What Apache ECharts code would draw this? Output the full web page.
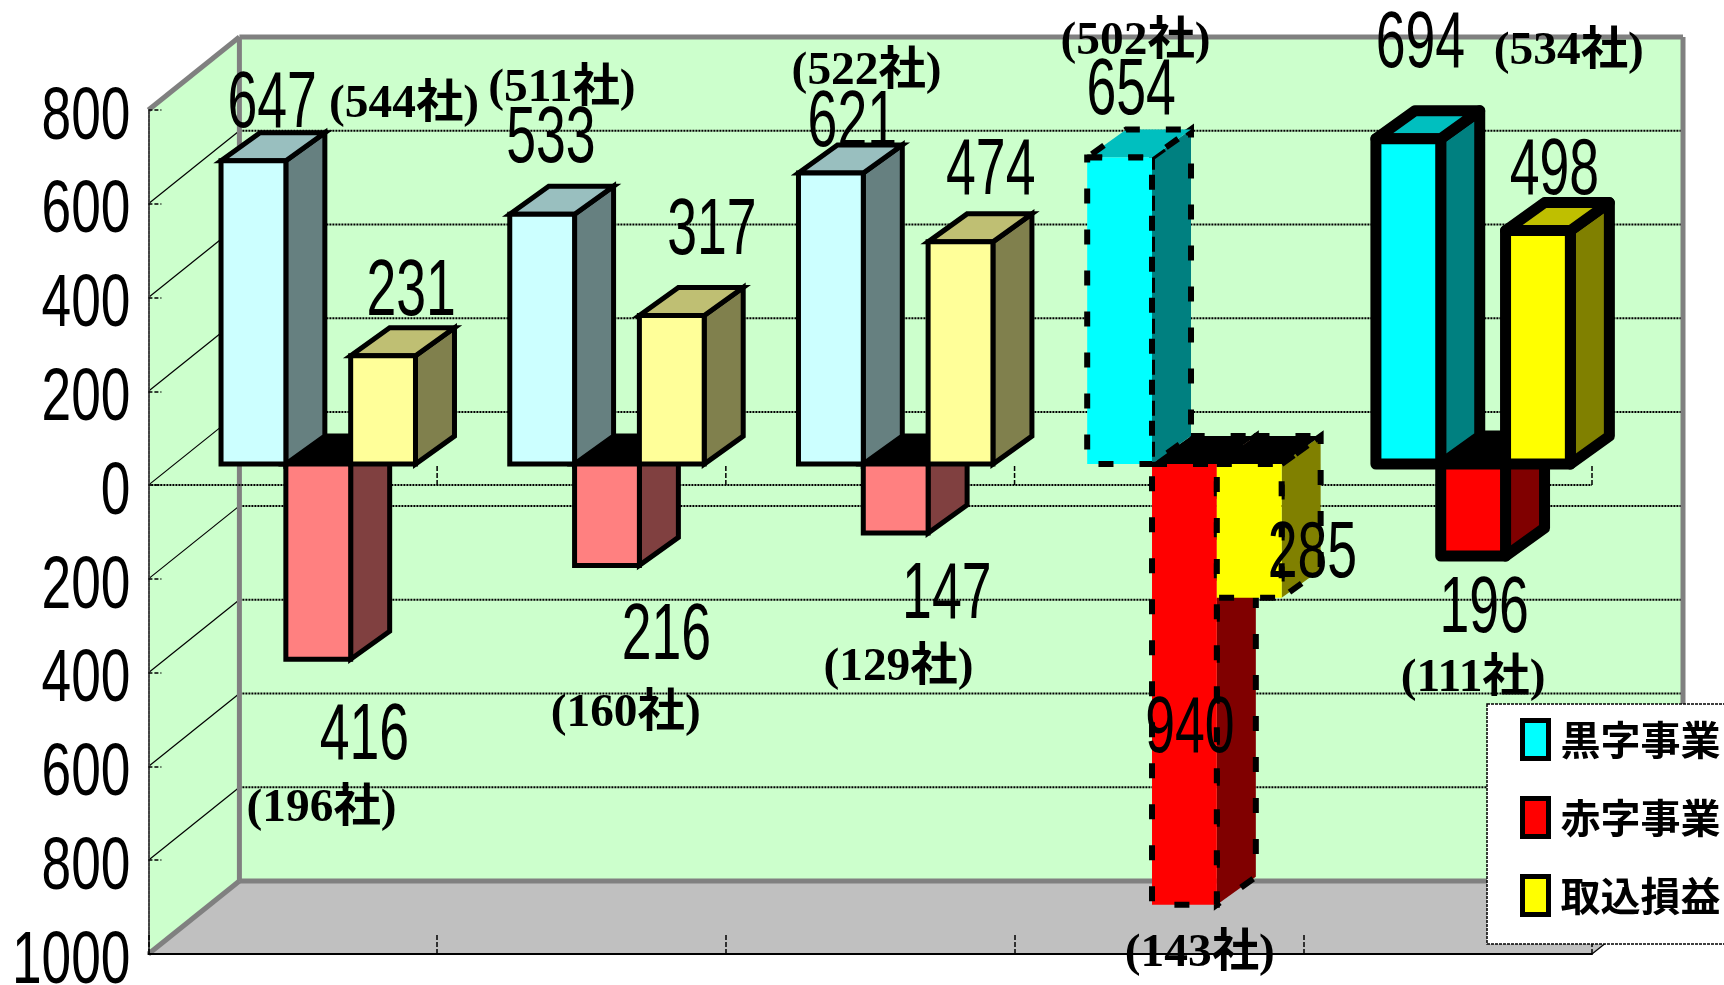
<!DOCTYPE html>
<html><head><meta charset="utf-8">
<style>html,body{margin:0;padding:0;background:#fff;overflow:hidden}#c{width:1724px;height:985px}</style>
<script src="https://cdn.jsdelivr.net/npm/echarts@6/dist/echarts.min.js"></script>
</head><body><div id="c"></div>
<script>
const categories = ['1','2','3','4','5'];
const profit = [647,533,621,654,694];
const loss = [-416,-216,-147,-940,-196];
const equity = [231,317,474,-285,498];
const profitCos = [544,511,522,502,534];
const lossCos = [196,160,129,143,111];
const tickValues = [800,600,400,200,0,-200,-400,-600,-800,-1000];
const tickLabels = ['800','600','400','200','0','200','400','600','800','1000'];
const seriesNames = ['黒字事業','赤字事業','取込損益'];

// layout: label offsets (in 1568-wide units) relative to the front end of each bar
const K = 1724/1568;
const profitOff = [[17,-54],[8,-71],[19.5,-48],[10.5,-63],[11,-89]];
const profitCoOff = [[137,-54],[18,-117],[32.5,-95],[14.5,-109],[146,-82]];
const lossOff = [[42,67],[54,61],[46.5,54],[5,-163],[10,45]];
const lossCoOff = [[3,133],[17,132],[2.5,119],[14,41],[0,108]];
const equityOff = [[25.5,-61],[36.5,-80],[27.5,-67],[57.5,-43],[15,-57]];

const WALL_DX = 91, WALL_DY = 73;
const BAR_DX = 39, BAR_DY = 28, SHIFT_X = 25.5, SHIFT_Y = 21, BAR_W_FRAC = 0.2245;
const LABEL_NUDGE = 4;

const faded = [
  {front:'#CCFFFF',top:'#99BFBF',side:'#668080'},
  {front:'#FF8080',top:'#000000',side:'#804040'},
  {front:'#FFFF99',top:'#BFBF73',side:'#80804D'}];
const pure = [
  {front:'#00FFFF',top:'#00BFBF',side:'#008080'},
  {front:'#FF0000',top:'#000000',side:'#800000'},
  {front:'#FFFF00',top:'#BFBF00',side:'#808000'}];
function strokeOf(i){
  if(i===3) return {lineWidth:6,lineDash:[15,26],lineJoin:'miter'};
  if(i===4) return {lineWidth:11,lineJoin:'round'};
  return {lineWidth:5,lineJoin:'miter'};
}
function anchor(api,i,v,k){
  const p = api.coord([i,v]), z = api.coord([i,0]);
  const w = api.size([1,0])[0]*BAR_W_FRAC;
  const x0 = p[0]+SHIFT_X+(k-1.5)*w;
  return {x0,x1:x0+w,yEnd:p[1]-SHIFT_Y,yBase:z[1]-SHIFT_Y,w};
}
function barSeries(name,values,k,z){
  return {
    name,type:'custom',z,clip:false,silent:true,
    itemStyle:{color:pure[k].front,borderColor:'#000',borderWidth:5},
    encode:{x:0,y:1},
    data:values.map((v,i)=>[i,v]),
    renderItem(p,api){
      const i=api.value(0), v=api.value(1);
      const a=anchor(api,i,v,k);
      const c=(i<3?faded:pure)[k];
      const s=strokeOf(i);
      const yt=Math.min(a.yEnd,a.yBase), yb=Math.max(a.yEnd,a.yBase);
      const topFill = v<0 ? '#000' : c.top;
      const poly=(pts,fill)=>({type:'polygon',shape:{points:pts},style:Object.assign({fill,stroke:'#000'},s)});
      return {type:'group',children:[
        poly([[a.x1,yt],[a.x1+BAR_DX,yt-BAR_DY],[a.x1+BAR_DX,yb-BAR_DY],[a.x1,yb]],c.side),
        poly([[a.x0,yt],[a.x1,yt],[a.x1+BAR_DX,yt-BAR_DY],[a.x0+BAR_DX,yt-BAR_DY]],topFill),
        poly([[a.x0,yt],[a.x1,yt],[a.x1,yb],[a.x0,yb]],c.front)
      ]};
    }
  };
}
function txt(x,y,text,font,scaleX){
  return {type:'text',x,y,scaleX,scaleY:1,style:{text,font,fill:'#000',align:'center',verticalAlign:'middle',textAlign:'center',textVerticalAlign:'middle'}};
}
const NUM_FONT='80px "Liberation Sans"', AXIS_FONT='75px "Liberation Sans"';
const CO_FONT='bold 46px "Liberation Serif","Noto Sans CJK JP"';

const walls={
  type:'custom',z:-1,silent:true,clip:false,
  data:[[0,0]],encode:{x:0,y:1},
  renderItem(p,api){
    const n=categories.length, half=api.size([1,0])[0]/2;
    const L=api.coord([0,0])[0]-half, R=api.coord([n-1,0])[0]+half;
    const Y=v=>api.coord([0,v])[1];
    const top=Y(800), bot=Y(-1000);
    const BL=L+WALL_DX, BR=R+WALL_DX;
    const ch=[];
    const gray={stroke:'#808080',lineWidth:5,fill:null};
    ch.push({type:'polygon',shape:{points:[[BL,top-WALL_DY],[BR,top-WALL_DY],[BR,bot-WALL_DY],[BL,bot-WALL_DY]]},style:{fill:'#CCFFCC'}});
    ch.push({type:'polygon',shape:{points:[[L,top],[BL,top-WALL_DY],[BL,bot-WALL_DY],[L,bot]]},style:{fill:'#CCFFCC'}});
    ch.push({type:'polygon',shape:{points:[[L,bot],[R,bot],[BR,bot-WALL_DY],[BL,bot-WALL_DY]]},style:{fill:'#C0C0C0'}});
    tickValues.forEach(v=>{
      if(v===800||v===-1000) return;
      const y=Y(v);
      ch.push({type:'line',shape:{x1:BL,y1:y-WALL_DY,x2:BR,y2:y-WALL_DY},style:{stroke:'#000',lineWidth:2,lineDash:[2,1]}});
      ch.push({type:'line',shape:{x1:L,y1:y,x2:BL,y2:y-WALL_DY},style:{stroke:'#000',lineWidth:1.2}});
    });
    const ln=(x1,y1,x2,y2,st)=>ch.push({type:'line',shape:{x1,y1,x2,y2},style:st});
    ln(BL,top-WALL_DY,BR,top-WALL_DY,gray);
    ln(BL,top-WALL_DY,BL,bot-WALL_DY,gray);
    ln(BR,top-WALL_DY,BR,bot-WALL_DY,gray);
    ln(BL,bot-WALL_DY,BR,bot-WALL_DY,gray);
    ln(L,top,BL,top-WALL_DY,gray);
    ln(L,bot,BL,bot-WALL_DY,gray);
    ln(R,bot,BR,bot-WALL_DY,{stroke:'#000',lineWidth:1.2});
    const z0=Y(0);
    ln(L,z0,R,z0,{stroke:'#000',lineWidth:2,lineDash:[2,1]});
    for(let i=1;i<=n;i++){
      const x=L+i*2*half;
      ln(x,z0,x,z0-20,{stroke:'#000',lineWidth:1.5,lineDash:[5,2]});
    }
    return {type:'group',children:ch};
  }
};
const axisText={
  type:'custom',z:6,silent:true,clip:false,
  data:tickValues.map((v,i)=>[0,v,i]),encode:{x:0,y:1},
  renderItem(p,api){
    const half=api.size([1,0])[0]/2;
    const q=api.coord([0,api.value(1)]);
    const s=tickLabels[api.value(2)];
    const t=txt(q[0]-half-18,q[1]+8,s,AXIS_FONT,0.71);
    t.style.align='right';t.style.textAlign='right';
    return t;
  }
};
const labelRows=[];
categories.forEach((c,i)=>{
  labelRows.push([i,profit[i],0,String(profit[i]),profitOff[i][0],profitOff[i][1]]);
  labelRows.push([i,profit[i],0,'('+profitCos[i]+'社)',profitCoOff[i][0],profitCoOff[i][1]]);
  labelRows.push([i,loss[i],1,String(-loss[i]),lossOff[i][0],lossOff[i][1]]);
  labelRows.push([i,loss[i],1,'('+lossCos[i]+'社)',lossCoOff[i][0],lossCoOff[i][1]]);
  labelRows.push([i,equity[i],2,String(Math.abs(equity[i])),equityOff[i][0],equityOff[i][1]]);
});
const labels={
  type:'custom',z:7,silent:true,clip:false,
  data:labelRows.map((r,idx)=>[r[0],r[1],idx]),encode:{x:0,y:1},
  renderItem(p,api){
    const r=labelRows[api.value(2)];
    const a=anchor(api,r[0],r[1],r[2]);
    const x=(a.x0+a.x1)/2+r[4]*K, y=a.yEnd+r[5]*K+LABEL_NUDGE;
    const co=r[3].indexOf('社')>=0;
    return txt(x,y,r[3],co?CO_FONT:NUM_FONT,co?1.03:0.67);
  }
};

const chart=echarts.init(document.getElementById('c'),null,{renderer:'canvas'});
chart.setOption({
  animation:false,
  backgroundColor:'#fff',
  grid:{left:148.4,right:132,top:110,bottom:31,containLabel:false},
  xAxis:{type:'category',data:categories,boundaryGap:true,
    axisLine:{onZero:false,lineStyle:{color:'#000',width:2}},
    axisTick:{show:true,inside:true,length:20,alignWithLabel:false,lineStyle:{color:'#000',width:1.5,type:[5,2]}},
    axisLabel:{show:false},splitLine:{show:false}},
  yAxis:{type:'value',min:-1000,max:800,interval:200,
    axisLine:{show:true,lineStyle:{color:'#444',width:2,type:[3,1]}},
    axisTick:{show:true,inside:true,length:13,lineStyle:{color:'#000',width:1.5,type:[4,2]}},
    axisLabel:{show:false},splitLine:{show:false}},
  legend:{data:seriesNames,orient:'vertical',left:1487,top:704,
    padding:[14,20,27,33],itemWidth:26,itemHeight:38,itemGap:35,
    backgroundColor:'#fff',borderColor:'#000',borderWidth:1.5,borderType:[3,1],
    icon:'rect',selectedMode:false,
    itemStyle:{borderColor:'#000',borderWidth:5},
    textStyle:{fontFamily:'"Noto Sans CJK JP"',fontWeight:'bold',fontSize:40,color:'#000',padding:[0,0,0,7]}},
  series:[walls,
    barSeries(seriesNames[1],loss,1,3),
    barSeries(seriesNames[0],profit,0,4),
    barSeries(seriesNames[2],equity,2,5),
    axisText,labels]
});
</script></body></html>
